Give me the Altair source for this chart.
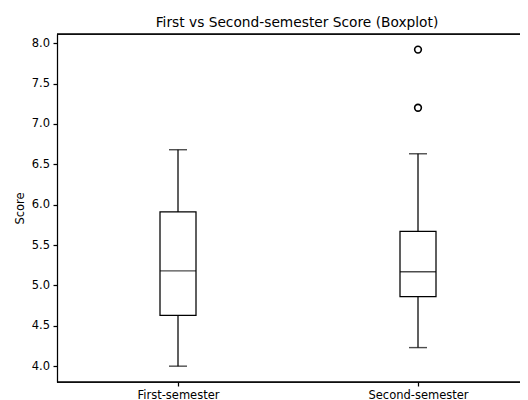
import altair as alt
import pandas as pd

categories = ["First-semester", "Second-semester"]
whisker_low = [4.00, 4.23]
q1 = [4.63, 4.86]
median = [5.18, 5.17]
q3 = [5.91, 5.67]
whisker_high = [6.68, 6.63]
outlier_cat = ["Second-semester", "Second-semester"]
outlier_val = [7.92, 7.20]

stats = pd.DataFrame({
    "cat": categories,
    "lo": whisker_low,
    "q1": q1,
    "med": median,
    "q3": q3,
    "hi": whisker_high,
})
outliers = pd.DataFrame({"cat": outlier_cat, "val": outlier_val})

FONT = "DejaVu Sans"
LW = 1.25
W = 463
H = 348

xscale = alt.Scale(type="point", domain=categories, range=[121, 361], padding=0)
yscale = alt.Scale(domain=[3.804, 8.113], nice=False, zero=False)

xenc = alt.X("cat:N", scale=xscale, sort=categories,
             axis=alt.Axis(title=None, labelAngle=0, labelFont=FONT, labelFontSize=11.5,
                           labelColor="black", tickColor="black", domain=False,
                           tickSize=4, labelPadding=3.5, tickWidth=LW))
yaxis = alt.Axis(title="Score", values=[4.0, 4.5, 5.0, 5.5, 6.0, 6.5, 7.0, 7.5, 8.0],
                 format=".1f", grid=False, labelFont=FONT, labelFontSize=11.5,
                 labelColor="black", tickColor="black", domainColor="black",
                 tickSize=4, labelPadding=3.5, domainWidth=LW, tickWidth=LW,
                 titleFont=FONT, titleFontSize=11.5, titleFontWeight="normal",
                 titleColor="black", titlePadding=6)

base = alt.Chart(stats)

whiskers = base.mark_rule(color="black", strokeWidth=LW).encode(
    x=xenc,
    y=alt.Y("lo:Q", scale=yscale, axis=yaxis),
    y2="hi:Q",
)
box = base.mark_bar(fill="white", stroke="black", strokeWidth=LW, size=36).encode(
    x=xenc,
    y=alt.Y("q1:Q", scale=yscale),
    y2="q3:Q",
)
med = base.mark_tick(color="black", thickness=1.4, size=36).encode(
    x=xenc, y=alt.Y("med:Q", scale=yscale)
)
cap_lo = base.mark_tick(color="black", thickness=1.4, size=18).encode(
    x=xenc, y=alt.Y("lo:Q", scale=yscale)
)
cap_hi = base.mark_tick(color="black", thickness=1.4, size=18).encode(
    x=xenc, y=alt.Y("hi:Q", scale=yscale)
)
pts = alt.Chart(outliers).mark_point(shape="circle", filled=False, color="black",
                                     strokeWidth=1.6, size=45, opacity=1).encode(
    x=alt.X("cat:N", scale=xscale, sort=categories),
    y=alt.Y("val:Q", scale=yscale),
)

# frame spines (top and bottom)
top_spine = alt.Chart(stats).mark_rule(color="black", strokeWidth=LW).encode(
    x=alt.value(0), x2=alt.value(W + 10), y=alt.value(0)
)
bottom_spine = alt.Chart(stats).mark_rule(color="black", strokeWidth=LW).encode(
    x=alt.value(0), x2=alt.value(W + 10), y=alt.value(H)
)

chart = alt.layer(whiskers, box, med, cap_lo, cap_hi, pts, top_spine, bottom_spine).properties(
    width=W,
    height=H,
    title=alt.TitleParams("First vs Second-semester Score (Boxplot)", font=FONT,
                          fontSize=13.75, fontWeight="normal", color="black",
                          anchor="middle", dx=8.5, offset=4),
    autosize=alt.AutoSizeParams(type="none"),
    padding={"left": 49, "top": 26, "right": 0, "bottom": 18},
).configure_view(stroke=None).configure(background="white")

chart.save("out.html", embed_options={"renderer": "svg", "actions": False})
